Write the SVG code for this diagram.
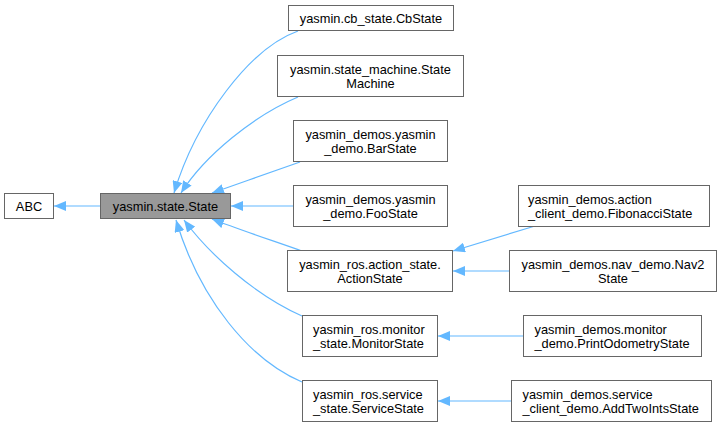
<svg xmlns="http://www.w3.org/2000/svg" width="721" height="428" viewBox="0 0 721 428">
<defs>
<style>
.n rect{fill:#fff;stroke:#666;stroke-width:1}
.n text{font-family:"Liberation Sans",Arial,Helvetica,sans-serif;font-size:12.8px;fill:#000;text-anchor:middle}
.n text.l{text-anchor:start}
#State rect{fill:#999}
.e path{fill:none;stroke:#63b8ff;stroke-width:1.2}
</style>
<marker id="ah" markerUnits="userSpaceOnUse" markerWidth="13" markerHeight="10" refX="12" refY="5" orient="auto">
<path d="M0,0 L12,5 L0,10 z" fill="#63b8ff"/>
</marker>
</defs>
<rect width="721" height="428" fill="#fff"/>
<g id="edges" class="e">
<path d="M100,206 L54,206" marker-end="url(#ah)"/>
<path d="M298,31 C250,48 196,120 174,193" marker-end="url(#ah)"/>
<path d="M298,97 C255,115 205,155 181,193" marker-end="url(#ah)"/>
<path d="M300,162 C275,171 240,183 212,193" marker-end="url(#ah)"/>
<path d="M293,206 L231,206" marker-end="url(#ah)"/>
<path d="M302,251 C277,242 240,230 212,219" marker-end="url(#ah)"/>
<path d="M302,316 C255,295 210,255 184,220" marker-end="url(#ah)"/>
<path d="M302,382 C250,360 200,300 176,220" marker-end="url(#ah)"/>
<path d="M535,226 L453,251" marker-end="url(#ah)"/>
<path d="M509,271 L453,271" marker-end="url(#ah)"/>
<path d="M523,336 L438,336" marker-end="url(#ah)"/>
<path d="M511,401 L438,401" marker-end="url(#ah)"/>
</g>
<g id="ABC" class="n"><rect x="4.5" y="193.5" width="49" height="25"/><text x="29" y="210.5">ABC</text></g>
<g id="State" class="n"><rect x="100.5" y="193.5" width="130" height="25"/><text x="165.5" y="210.5">yasmin.state.State</text></g>
<g id="CbState" class="n"><rect x="288.5" y="5.5" width="165" height="25"/><text x="371" y="22.5">yasmin.cb_state.CbState</text></g>
<g id="StateMachine" class="n"><rect x="277.5" y="55.5" width="186" height="41"/><text x="370.5" y="73.5">yasmin.state_machine.State</text><text x="370.5" y="87.5">Machine</text></g>
<g id="BarState" class="n"><rect x="293.5" y="120.5" width="154" height="41"/><text x="370.5" y="138.5">yasmin_demos.yasmin</text><text x="370.5" y="152.5">_demo.BarState</text></g>
<g id="FooState" class="n"><rect x="293.5" y="185.5" width="154" height="41"/><text x="370.5" y="203.5">yasmin_demos.yasmin</text><text x="370.5" y="217.5">_demo.FooState</text></g>
<g id="ActionState" class="n"><rect x="287.5" y="250.5" width="165" height="41"/><text x="370" y="268.5">yasmin_ros.action_state.</text><text x="370" y="282.5">ActionState</text></g>
<g id="MonitorState" class="n"><rect x="302.5" y="315.5" width="135" height="41"/><text class="l" x="313" y="333.5">yasmin_ros.monitor</text><text class="l" x="313" y="347.5">_state.MonitorState</text></g>
<g id="ServiceState" class="n"><rect x="302.5" y="380.5" width="135" height="41"/><text class="l" x="313" y="398.5">yasmin_ros.service</text><text class="l" x="313" y="412.5">_state.ServiceState</text></g>
<g id="FibonacciState" class="n"><rect x="518.5" y="185.5" width="191" height="41"/><text class="l" x="528" y="203.5">yasmin_demos.action</text><text class="l" x="528" y="217.5">_client_demo.FibonacciState</text></g>
<g id="Nav2State" class="n"><rect x="509.5" y="250.5" width="207" height="41"/><text x="613" y="268.5">yasmin_demos.nav_demo.Nav2</text><text x="613" y="282.5">State</text></g>
<g id="PrintOdometryState" class="n"><rect x="523.5" y="315.5" width="178" height="41"/><text class="l" x="534.5" y="333.5">yasmin_demos.monitor</text><text class="l" x="534.5" y="347.5">_demo.PrintOdometryState</text></g>
<g id="AddTwoIntsState" class="n"><rect x="511.5" y="380.5" width="200" height="41"/><text class="l" x="522.5" y="398.5">yasmin_demos.service</text><text class="l" x="522.5" y="412.5">_client_demo.AddTwoIntsState</text></g>
</svg>
